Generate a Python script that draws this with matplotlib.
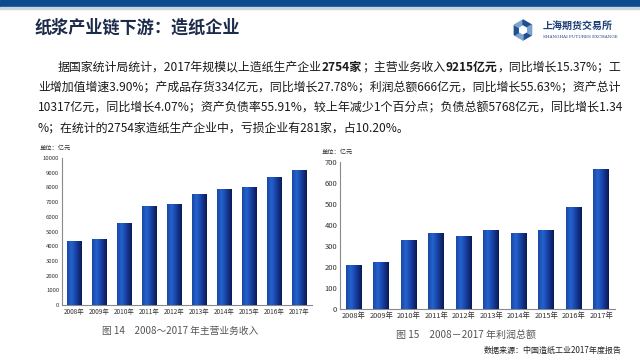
import numpy as np
import matplotlib
matplotlib.use("Agg")
import matplotlib.pyplot as plt
from matplotlib.colors import LinearSegmentedColormap
from matplotlib.patches import Rectangle, Polygon

plt.rcParams['font.family'] = ['Noto Sans CJK SC', 'DejaVu Sans']

# ---- data ----
years = ["2008年", "2009年", "2010年", "2011年", "2012年",
         "2013年", "2014年", "2015年", "2016年", "2017年"]
revenue = [4350, 4490, 5610, 6720, 6900, 7570, 7860, 8000, 8740, 9215]
profit = [209, 222, 330, 364, 346, 376, 364, 376, 488, 666]
rev_ticks = list(range(0, 10001, 1000))
prof_ticks = list(range(0, 701, 100))

title = "纸浆产业链下游：造纸企业"
para_lines = [
    [("据国家统计局统计，2017年规模以上造纸生产企业", False), ("2754家", True),
     ("；主营业务收入", False), ("9215亿元", True), ("，同比增长15.37%；工", False)],
    [("业增加值增速3.90%；产成品存货334亿元，同比增长27.78%；利润总额666亿元，同比增长55.63%；资产总计", False)],
    [("10317亿元，同比增长4.07%；资产负债率55.91%，较上年减少1个百分点；负债总额5768亿元，同比增长1.34", False)],
    [("%；在统计的2754家造纸生产企业中，亏损企业有281家，占10.20%。", False)],
]
unit_label = "单位：亿元"
cap_left = "图 14　2008～2017 年主营业务收入"
cap_right = "图 15　2008－2017 年利润总额"
source = "数据来源：中国造纸工业2017年度报告"

W, H = 640, 360
fig = plt.figure(figsize=(6.4, 3.6), dpi=100)
fig.patch.set_facecolor('white')

def fx(px): return px / W
def fy(py): return 1 - py / H

# top band
fig.patches.append(Rectangle((0, fy(7)), 1, 7 / H, transform=fig.transFigure,
                             color='#0b4a8c', zorder=0))
fig.patches.append(Rectangle((0, fy(9)), 1, 2 / H, transform=fig.transFigure,
                             color='#c9d3e0', zorder=0))

# title
fig.text(fx(35), fy(28), title, fontsize=12.3, fontweight='bold',
         color='#1c2b4a', va='center', ha='left')

# logo
cx, cy, r = 523, 30, 10
ang = np.deg2rad(np.arange(0, 360, 60) + 30)
for i in range(6):
    a0, a1 = ang[i], ang[(i + 1) % 6]
    pts = [(cx + r * np.cos(a0), cy + r * np.sin(a0)),
           (cx + r * np.cos(a1), cy + r * np.sin(a1)),
           (cx + 0.55 * r * np.cos(a1), cy + 0.55 * r * np.sin(a1)),
           (cx + 0.55 * r * np.cos(a0), cy + 0.55 * r * np.sin(a0))]
    col = '#1d4f91' if i % 2 == 0 else '#7fa3cf'
    fig.patches.append(Polygon([(fx(p[0]), fy(p[1])) for p in pts],
                               transform=fig.transFigure, color=col, zorder=1))
fig.text(fx(543), fy(26), "上海期货交易所", fontsize=7.2, fontweight='bold',
         color='#1d3f75', va='center', ha='left')
fig.text(fx(543), fy(37), "SHANGHAI FUTURES EXCHANGE", fontsize=3.0,
         color='#1d3f75', va='center', ha='left', family='DejaVu Serif')

# paragraph
fig.canvas.draw()
renderer = fig.canvas.get_renderer()
line_y = [67, 88, 108, 129]
line_x = [58, 38, 38, 38]
line_end = [620, 620, 620, None]
para_fs = 8.6
for li, segs in enumerate(para_lines):
    total = 0
    for s, b in segs:
        t = fig.text(0, 0, s, fontsize=para_fs, fontweight='bold' if b else 'normal')
        total += t.get_window_extent(renderer).width
        t.remove()
    fs = para_fs
    if line_end[li] is not None:
        fs = para_fs * (line_end[li] - line_x[li]) / total
    x = line_x[li]
    for s, b in segs:
        t = fig.text(fx(x), fy(line_y[li]), s, fontsize=fs,
                     fontweight='bold' if b else 'normal',
                     color='#1a1a1a', va='center', ha='left')
        x += t.get_window_extent(renderer).width

cmap = LinearSegmentedColormap.from_list(
    'barg', [(0, '#1b47a3'), (0.3, '#2463cf'), (0.65, '#173d9e'), (1, '#0a1a52')])
grad = np.linspace(0, 1, 64).reshape(1, -1)

def draw_chart(rect, vals, ticks, ymax, tick_fs, year_fs, width):
    ax = fig.add_axes(rect)
    x = np.arange(len(vals))
    bars = ax.bar(x, vals, width, color='#1b47a3', zorder=2)
    for b in bars:
        x0, y0 = b.get_x(), b.get_y()
        w, h = b.get_width(), b.get_height()
        im = ax.imshow(grad, extent=[x0, x0 + w, y0, y0 + h], cmap=cmap,
                       aspect='auto', zorder=3, interpolation='bilinear')
        im.set_clip_path(b)
    ax.set_xlim(-0.5, len(vals) - 0.5)
    ax.set_ylim(0, ymax)
    ax.set_xticks(x)
    ax.set_xticklabels(years, fontsize=year_fs, color='#333333')
    ax.set_yticks(ticks)
    ax.set_yticklabels([str(t) for t in ticks], fontsize=tick_fs, color='#333333')
    for s in ['top', 'right']:
        ax.spines[s].set_visible(False)
    for s in ['left', 'bottom']:
        ax.spines[s].set_color('#8a8a8a')
        ax.spines[s].set_linewidth(0.8)
    ax.tick_params(axis='both', length=0, pad=2)
    ax.set_facecolor('none')
    return ax

draw_chart([fx(62), fy(305), fx(250), 147 / H], revenue, rev_ticks, 10000,
           4.3, 4.6, 0.58)
draw_chart([fx(340), fy(309), fx(275), 147 / H], profit, prof_ticks, 700,
           5.5, 5.3, 0.57)

fig.text(fx(40), fy(148), unit_label, fontsize=4.5, color='#333333',
         va='center', ha='left')
fig.text(fx(322), fy(152), unit_label, fontsize=4.5, color='#333333',
         va='center', ha='left')
fig.text(fx(102), fy(331), cap_left, fontsize=7, color='#555555',
         va='center', ha='left')
fig.text(fx(396), fy(335), cap_right, fontsize=7.2, color='#555555',
         va='center', ha='left')
fig.text(fx(622), fy(350), source, fontsize=5.8, color='#222222',
         va='center', ha='right')

fig.savefig('out.png', dpi=100)
